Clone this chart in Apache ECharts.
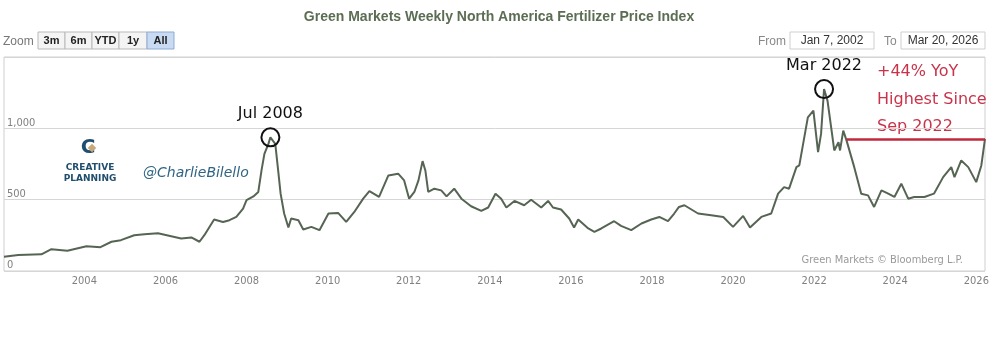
<!DOCTYPE html>
<html><head><meta charset="utf-8">
<script src="https://cdn.jsdelivr.net/npm/echarts@6/dist/echarts.min.js"></script>
<style>html,body{margin:0;padding:0;background:#fff}#c{width:1000px;height:338px}</style>
</head><body><div id="c"></div>
<script>
const dates = ["2002-01-07","2002-05-15","2002-12-10","2003-03-10","2003-08-01","2004-01-20","2004-05-25","2004-09-01","2004-11-25","2005-03-25","2005-06-25","2005-10-25",
"2006-05-22","2006-08-22","2006-11-03","2006-12-17","2007-03-15","2007-06-03","2007-07-31","2007-10-01","2007-12-01","2008-01-01","2008-03-03","2008-04-16","2008-05-15","2008-06-10","2008-07-16","2008-08-03","2008-09-16","2008-10-15","2008-11-03","2008-12-05",
"2009-01-12","2009-02-06","2009-04-12","2009-05-26","2009-08-07","2009-10-19","2010-01-08","2010-04-05","2010-06-17","2010-08-29","2010-11-17","2011-01-12","2011-04-09","2011-07-02","2011-09-28","2011-11-21",
"2012-01-05","2012-02-21","2012-03-29","2012-05-05","2012-05-30","2012-06-25","2012-08-19","2012-10-20","2012-12-07","2013-02-14","2013-04-20","2013-07-16","2013-10-16","2013-12-17",
"2014-02-21","2014-04-13","2014-05-30","2014-08-11","2014-11-06","2015-01-08","2015-04-09","2015-06-10","2015-07-24","2015-10-05","2015-12-17","2016-01-30","2016-03-07","2016-06-06","2016-07-31",
"2016-10-01","2017-01-25","2017-03-28","2017-06-28","2017-09-28","2017-12-25","2018-03-08","2018-05-25","2018-07-20","2018-09-01","2018-10-20","2019-02-20","2019-06-18","2019-10-05","2020-01-01","2020-04-01","2020-06-02","2020-09-12","2020-12-10","2021-02-10","2021-04-05","2021-05-20","2021-07-25","2021-08-20","2021-11-05","2021-12-25","2022-02-05","2022-03-04","2022-03-31","2022-05-01","2022-06-03","2022-07-01","2022-08-08","2022-08-22","2022-09-20","2022-10-20","2022-12-28","2023-03-01","2023-05-01","2023-06-25","2023-08-30","2023-10-30","2023-12-25","2024-02-25","2024-04-27","2024-06-20","2024-09-20","2024-12-15","2025-03-08","2025-05-20","2025-06-18","2025-08-18","2025-10-20","2025-12-31","2026-02-15","2026-03-20"];
const values = [100,112,117,153,142,174,167,205,216,251,258,265,
228,235,205,251,361,344,356,379,437,496,523,554,705,821,891,937,891,682,542,403,
305,368,356,291,309,286,403,407,344,414,507,560,519,670,682,635,
507,554,635,770,705,554,577,565,523,577,507,454,421,445,
542,507,445,491,461,500,445,491,445,431,368,305,361,298,274,
298,349,316,286,333,361,379,349,403,449,461,403,391,379,309,386,305,379,403,542,588,577,728,740,1077,1124,833,961,1275,1194,1007,845,903,845,984,914,728,542,530,449,565,542,519,612,507,519,519,542,658,728,658,775,728,623,740,926];
const refDates = ["2022-10-20","2026-03-20"];
const refValues = [922,922];
const peaks = [{date:"2008-08-03", value:937, label:"Jul 2008"},{date:"2022-03-31", value:1275, label:"Mar 2022"}];
const yearTicks = [2004,2006,2008,2010,2012,2014,2016,2018,2020,2022,2024,2026];
const noteLines = ["+44% YoY","Highest Since","Sep 2022"];

const chart = echarts.init(document.getElementById('c'));
const hand = '"DejaVu Sans", sans-serif';
function btn(x, w, label, active){
  return {type:'group', children:[
    {type:'rect', shape:{x:x,y:32,width:w,height:17}, style:{fill:active?'#c9dbf3':'#f4f4f4', stroke:active?'#8fa9d3':'#b9b9b9', lineWidth:1}},
    {type:'text', x:x+w/2, y:40.5, style:{text:label, fill:'#222', font:'bold 11px "Liberation Sans", Arial', align:'center', verticalAlign:'middle'}}
  ]};
}
function yearLabel(v){
  const d = new Date(v);
  const y = d.getFullYear();
  return (d.getMonth()===0 && d.getDate()===1 && yearTicks.indexOf(y) >= 0) ? String(y) : '';
}
const option = {
  animation:false,
  title:{text:'Green Markets Weekly North America Fertilizer Price Index', left:494, top:5, textAlign:'center',
    textStyle:{color:'#5b6d52', fontSize:14, fontWeight:'bold', fontFamily:'"Liberation Sans", Arial'}},
  grid:{left:4, right:15, top:57, bottom:67, show:true, borderColor:'#cfcfcf', borderWidth:1},
  xAxis:{type:'time', min:'2002-01-07', max:'2026-03-20', splitNumber:12,
    axisLine:{show:false}, axisTick:{show:false}, splitLine:{show:false},
    axisLabel:{formatter: yearLabel, color:'#808080', fontSize:11, margin:5,
      fontFamily:'"DejaVu Sans Condensed", "Liberation Sans Narrow", sans-serif', hideOverlap:false, showMinLabel:false, showMaxLabel:false}},
  yAxis:{type:'value', min:0, max:1500, interval:500,
    axisLine:{show:false}, axisTick:{show:false},
    splitLine:{lineStyle:{color:'#d6d6d6', width:1}},
    axisLabel:{inside:true, margin:3, verticalAlign:'bottom', color:'#808080', fontSize:11,
      fontFamily:'"DejaVu Sans Condensed", sans-serif',
      formatter: v=> v===1500 ? '' : v.toLocaleString('en-US')}},
  series:[
    {type:'line', data:dates.map((d,i)=>[d,values[i]]), symbol:'none', lineStyle:{color:'#566553', width:2}, z:3,
      markPoint:{symbol:'circle', symbolSize:18,
        itemStyle:{color:'rgba(0,0,0,0)', borderColor:'#111', borderWidth:2},
        label:{show:true, position:'top', distance:5, color:'#111', fontSize:16, fontFamily:hand, formatter:p=>p.name},
        data:peaks.map(p=>({name:p.label, coord:[p.date, p.value]}))}},
    {type:'line', data:refDates.map((d,i)=>[d,refValues[i]]), symbol:'none', lineStyle:{color:'#c1283c', width:2.5}, z:4}
  ],
  graphic:[
    {type:'text', left:3, top:36, style:{text:'Zoom', fill:'#777', font:'12px "Liberation Sans", Arial'}},
    btn(38,27,'3m',false), btn(65,27,'6m',false), btn(92,27,'YTD',false), btn(119,28,'1y',false), btn(147,27,'All',true),
    {type:'text', left:758, top:36, style:{text:'From', fill:'#888', font:'12px "Liberation Sans", Arial'}},
    {type:'rect', shape:{x:790,y:32,width:84,height:17}, style:{fill:'#fff', stroke:'#cfcfcf'}},
    {type:'text', x:832, y:40.5, style:{text:'Jan 7, 2002', fill:'#333', font:'12px "Liberation Sans", Arial', align:'center', verticalAlign:'middle'}},
    {type:'text', left:884, top:36, style:{text:'To', fill:'#888', font:'12px "Liberation Sans", Arial'}},
    {type:'rect', shape:{x:901,y:32,width:84,height:17}, style:{fill:'#fff', stroke:'#cfcfcf'}},
    {type:'text', x:943, y:40.5, style:{text:'Mar 20, 2026', fill:'#333', font:'12px "Liberation Sans", Arial', align:'center', verticalAlign:'middle'}},
    {type:'text', x:877, y:72, style:{text:noteLines[0], fill:'#c8334a', font:'16px '+hand, verticalAlign:'middle'}},
    {type:'text', x:877, y:100, style:{text:noteLines[1], fill:'#c8334a', font:'16px '+hand, verticalAlign:'middle'}},
    {type:'text', x:877, y:127, style:{text:noteLines[2], fill:'#c8334a', font:'16px '+hand, verticalAlign:'middle'}},
    {type:'text', x:963, y:260, style:{text:'Green Markets © Bloomberg L.P.', fill:'#9a9a9a', font:'11px "DejaVu Sans Condensed", sans-serif', align:'right', verticalAlign:'middle'}},
    {type:'text', x:88, y:148, style:{text:'C', fill:'#1f4e6e', font:'bold 20px "DejaVu Sans", sans-serif', align:'center', verticalAlign:'middle'}},
    {type:'rect', x:92, y:148, rotation:Math.PI/4, shape:{x:-3,y:-3,width:6,height:6}, style:{fill:'#c9a97a'}},
    {type:'text', x:90, y:168, style:{text:'CREATIVE', fill:'#1f4e6e', font:'bold 9px "DejaVu Sans", sans-serif', align:'center', verticalAlign:'middle'}},
    {type:'text', x:90, y:179, style:{text:'PLANNING', fill:'#1f4e6e', font:'bold 9px "DejaVu Sans", sans-serif', align:'center', verticalAlign:'middle'}},
    {type:'text', x:143, y:173, style:{text:'@CharlieBilello', fill:'#2f6483', font:'italic 14px '+hand, verticalAlign:'middle'}}
  ]
};
chart.setOption(option);
</script></body></html>
